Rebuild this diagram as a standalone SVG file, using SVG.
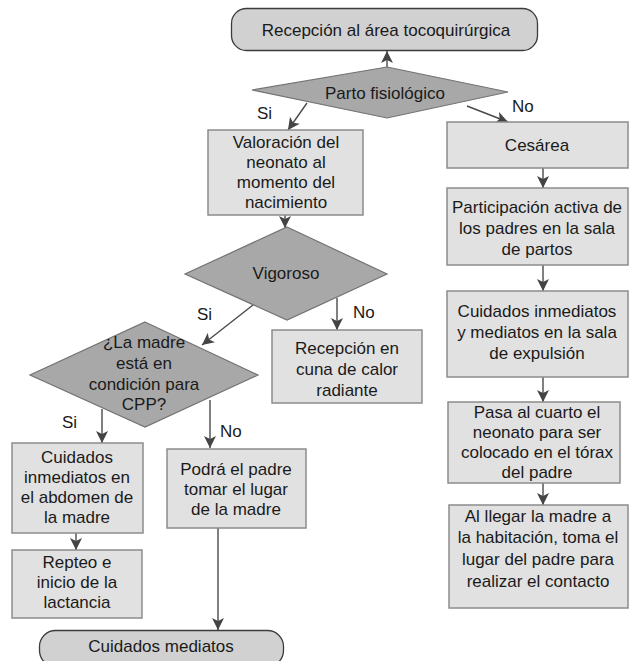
<svg xmlns="http://www.w3.org/2000/svg" width="629" height="661" viewBox="0 0 629 661">
<defs>
<marker id="ah" viewBox="0 0 12 12" refX="12" refY="6" markerWidth="12" markerHeight="12" markerUnits="userSpaceOnUse" orient="auto">
<path d="M0,0 L12,6 L0,12 L3,6 Z" fill="#444"/>
</marker>
<style>
text{font-family:"Liberation Sans",Arial,sans-serif;font-size:17px;fill:#1a1a1a;text-anchor:middle}
.lbl{text-anchor:start}
.term{fill:#d1d1d1;stroke:#3c3c3c;stroke-width:1.3}
.box{fill:#e1e1e1;stroke:#8c8c8c;stroke-width:1.5}
.dia{fill:#a8a8a8;stroke:#737373;stroke-width:1.2}
.con{fill:none;stroke:#4a4a4a;stroke-width:1.4;marker-end:url(#ah)}
</style>
</defs>
<rect width="629" height="661" fill="#fff"/>

<g id="connectors">
<path class="con" d="M387,67 V51"/>
<path class="con" d="M307,103 L288,130"/>
<path class="con" d="M467,106 L508,122"/>
<path class="con" d="M285,215 V228"/>
<path class="con" d="M543,168 V188"/>
<path class="con" d="M543,265 V291"/>
<path class="con" d="M543,377 V402"/>
<path class="con" d="M543,483 V505"/>
<path class="con" d="M253,305 L202,345"/>
<path class="con" d="M337,298 V330"/>
<path class="con" d="M102,409 V443"/>
<path class="con" d="M210,400 V448"/>
<path class="con" d="M76,533 V550"/>
<path class="con" d="M218,528 V630"/>
</g>
<g id="labels">
<text class="lbl" x="257" y="119">Si</text>
<text class="lbl" x="512" y="112">No</text>
<text class="lbl" x="197" y="320">Si</text>
<text class="lbl" x="353" y="318">No</text>
<text class="lbl" x="62" y="428">Si</text>
<text class="lbl" x="220" y="437">No</text>
</g>

<g id="n-recepcion-area">
<rect class="term" x="231.5" y="8.5" width="306" height="42" rx="15"/>
<text x="386" y="36">Recepción al área tocoquirúrgica</text>
</g>
<g id="n-parto">
<polygon class="dia" points="387,67 508,92 387,118 252,90"/>
<text x="385" y="99">Parto fisiológico</text>
</g>
<g id="n-valoracion">
<rect class="box" x="208" y="130" width="155" height="85"/>
<text x="286" y="148">Valoración del</text>
<text x="286" y="168">neonato al</text>
<text x="286" y="188">momento del</text>
<text x="286" y="208">nacimiento</text>
</g>
<g id="n-cesarea">
<rect class="box" x="447" y="122" width="181" height="46"/>
<text x="537" y="151">Cesárea</text>
</g>
<g id="n-participacion">
<rect class="box" x="447" y="188" width="181" height="77"/>
<text x="537" y="213">Participación activa de</text>
<text x="537" y="234">los padres en la sala</text>
<text x="537" y="255">de partos</text>
</g>
<g id="n-cuidados-inm-med">
<rect class="box" x="447" y="291" width="181" height="86"/>
<text x="537" y="317">Cuidados inmediatos</text>
<text x="537" y="338">y mediatos en la sala</text>
<text x="537" y="359">de expulsión</text>
</g>
<g id="n-pasa">
<rect class="box" x="448" y="402" width="172" height="81"/>
<text x="537" y="418">Pasa al cuarto el</text>
<text x="537" y="438">neonato para ser</text>
<text x="537" y="458">colocado en el tórax</text>
<text x="537" y="478">del padre</text>
</g>
<g id="n-al-llegar">
<rect class="box" x="449" y="505" width="179" height="103"/>
<text x="538" y="522">Al llegar la madre a</text>
<text x="538" y="543">la habitación, toma el</text>
<text x="538" y="565">lugar del padre para</text>
<text x="538" y="587">realizar el contacto</text>
</g>
<g id="n-vigoroso">
<polygon class="dia" points="287,227 387,274 287,320 185,274"/>
<text x="286" y="279">Vigoroso</text>
</g>
<g id="n-recepcion-cuna">
<rect class="box" x="272" y="330" width="150" height="73"/>
<text x="347" y="354">Recepción en</text>
<text x="347" y="375">cuna de calor</text>
<text x="347" y="396">radiante</text>
</g>
<g id="n-cpp">
<polygon class="dia" points="145,322 258,375 145,427 30,375"/>
<text x="144" y="348">¿La madre</text>
<text x="144" y="369">está en</text>
<text x="144" y="390">condición para</text>
<text x="144" y="410">CPP?</text>
</g>
<g id="n-cuidados-abdomen">
<rect class="box" x="12" y="443" width="131" height="90"/>
<text x="77" y="463">Cuidados</text>
<text x="77" y="483">inmediatos en</text>
<text x="77" y="503">el abdomen de</text>
<text x="77" y="523">la madre</text>
</g>
<g id="n-podra">
<rect class="box" x="167" y="449" width="139" height="79"/>
<text x="236" y="475">Podrá el padre</text>
<text x="236" y="495">tomar el lugar</text>
<text x="236" y="515">de la madre</text>
</g>
<g id="n-repteo">
<rect class="box" x="12" y="550" width="130" height="68"/>
<text x="77" y="568">Repteo e</text>
<text x="77" y="588">inicio de la</text>
<text x="77" y="608">lactancia</text>
</g>
<g id="n-cuidados-mediatos">
<rect class="term" x="39.5" y="630.5" width="244" height="36" rx="16"/>
<text x="161" y="652">Cuidados mediatos</text>
</g>
</svg>
